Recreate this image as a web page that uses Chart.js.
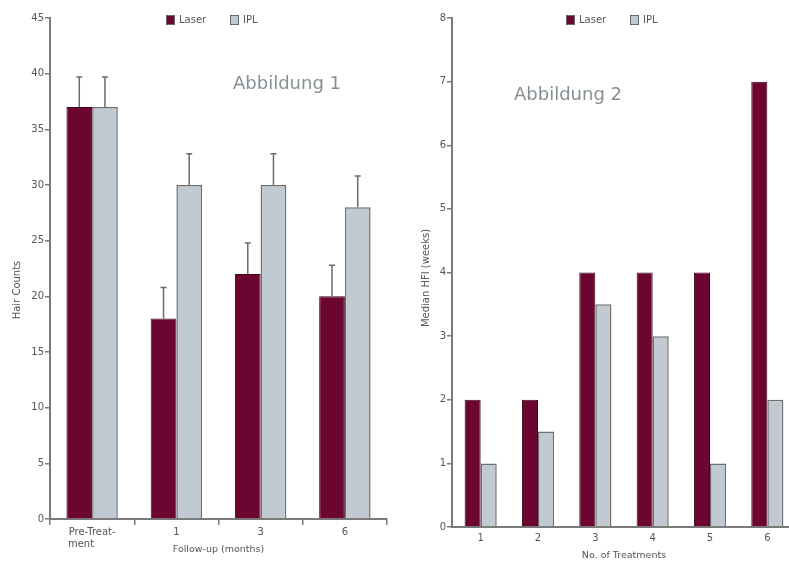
<!DOCTYPE html>
<html>
<head>
<meta charset="utf-8">
<script src="https://cdn.jsdelivr.net/npm/chart.js@4/dist/chart.umd.min.js"></script>
<style>
    html, body { margin: 0; padding: 0; background: #fff; overflow: hidden; }
    body { width: 789px; height: 561px; position: relative; }
    .panel { position: absolute; top: 0; width: 400px; height: 561px; }
    #left { left: 0; }
    #right { left: 400px; }
</style>
</head>
<body>
<div class="panel" id="left"><canvas id="chart1"></canvas></div>
<div class="panel" id="right"><canvas id="chart2"></canvas></div>
<script>
// Abbildung 1 - hair counts
const followUpLabels = [['Pre-Treat-', 'ment       '], '1', '3', '6'];
const hairLaser = [37, 18, 22, 20];
const hairIpl = [37, 30, 30, 28];
const hairLaserErr = [2.7, 2.8, 2.8, 2.8];
const hairIplErr = [2.7, 2.8, 2.8, 2.8];

// Abbildung 2 - median HFI
const treatmentLabels = ['1', '2', '3', '4', '5', '6'];
const hfiLaser = [2, 2, 4, 4, 4, 7];
const hfiIpl = [1, 1.5, 3.5, 3, 1, 2];

const LASER = '#6c0631';
const IPL = '#c1cad2';
const AXIS = '#7a7a7a';
const TEXT = '#555';
const FONT = '"DejaVu Sans", Verdana, sans-serif';

// error whiskers on top of each bar
const errorBars = {
    id: 'errorBars',
    afterDatasetsDraw(chart) {
        const { ctx, scales: { y } } = chart;
        chart.data.datasets.forEach((ds, i) => {
            if (!ds.errors) return;
            chart.getDatasetMeta(i).data.forEach((bar, j) => {
                const top = y.getPixelForValue(ds.data[j] + ds.errors[j]);
                ctx.save();
                ctx.strokeStyle = '#6a6a6a';
                ctx.lineWidth = 1.5;
                ctx.beginPath();
                ctx.moveTo(bar.x, bar.y);
                ctx.lineTo(bar.x, top);
                ctx.moveTo(bar.x - 3, top);
                ctx.lineTo(bar.x + 3, top);
                ctx.stroke();
                ctx.restore();
            });
        });
    }
};

// legend inside the plot, y axis title and the figure caption
const overlay = {
    id: 'overlay',
    afterDraw(chart, args, opts) {
        const { ctx, chartArea } = chart;
        ctx.save();
        let x = chartArea.left + opts.legendX;
        chart.data.datasets.forEach((ds) => {
            ctx.fillStyle = ds.backgroundColor;
            ctx.strokeStyle = '#666';
            ctx.lineWidth = 1;
            ctx.fillRect(x, 15, 9, 10);
            ctx.strokeRect(x + 0.5, 15.5, 8, 9);
            ctx.fillStyle = TEXT;
            ctx.font = '10px ' + FONT;
            ctx.textBaseline = 'middle';
            ctx.textAlign = 'left';
            ctx.fillText(ds.label, x + 13, 20);
            x += 64;
        });

        ctx.save();
        ctx.translate(opts.yTitleX, opts.yTitleY);
        ctx.rotate(-Math.PI / 2);
        ctx.textAlign = 'center';
        ctx.textBaseline = 'middle';
        ctx.fillStyle = TEXT;
        ctx.font = '10px ' + FONT;
        ctx.fillText(opts.yTitle, 0, 0);
        ctx.restore();

        ctx.fillStyle = '#868f94';
        ctx.font = '18px ' + FONT;
        ctx.textAlign = 'left';
        ctx.textBaseline = 'alphabetic';
        ctx.fillText(opts.caption, chartArea.left + opts.captionX, opts.captionY);
        ctx.restore();
    }
};

function makeChart(canvasId, cfg) {
    const tickFont = { family: FONT, size: 10 };
    return new Chart(document.getElementById(canvasId), {
        type: 'bar',
        data: {
            labels: cfg.labels,
            datasets: [
                {
                    label: 'Laser',
                    data: cfg.laser,
                    errors: cfg.laserErr,
                    backgroundColor: LASER,
                    borderColor: '#3a0a1c',
                    borderWidth: 1,
                    categoryPercentage: cfg.catPct,
                    barPercentage: 1
                },
                {
                    label: 'IPL',
                    data: cfg.ipl,
                    errors: cfg.iplErr,
                    backgroundColor: IPL,
                    borderColor: '#6e6e6e',
                    borderWidth: 1.5,
                    categoryPercentage: cfg.catPct,
                    barPercentage: 1
                }
            ]
        },
        options: {
            responsive: true,
            maintainAspectRatio: false,
            animation: false,
            layout: { padding: { top: 18, right: cfg.padRight, left: 0, bottom: 0 } },
            plugins: {
                legend: { display: false },
                tooltip: { enabled: false },
                overlay: {
                    legendX: cfg.legendX,
                    caption: cfg.caption,
                    captionX: cfg.captionX,
                    captionY: cfg.captionY,
                    yTitle: cfg.yTitle,
                    yTitleX: cfg.yTitleX,
                    yTitleY: cfg.yTitleY
                }
            },
            scales: {
                x: {
                    afterFit: (scale) => { scale.height = cfg.xHeight; },
                    grid: {
                        offset: true,
                        drawOnChartArea: false,
                        drawTicks: cfg.xTicks,
                        tickLength: 6,
                        color: AXIS,
                        lineWidth: 1.5
                    },
                    border: { color: AXIS, width: 2 },
                    ticks: { color: TEXT, font: tickFont, padding: cfg.xPad, maxRotation: 0, autoSkip: false },
                    title: {
                        display: true,
                        text: cfg.xTitle,
                        color: TEXT,
                        font: { family: FONT, size: 9.5 },
                        padding: { top: 0, bottom: cfg.xTitleBottom }
                    }
                },
                y: {
                    min: 0,
                    max: cfg.yMax,
                    afterFit: (scale) => { scale.width = cfg.yWidth; },
                    grid: { drawOnChartArea: false, tickLength: 5, color: AXIS, lineWidth: 1.5 },
                    border: { color: AXIS, width: 2 },
                    ticks: { stepSize: cfg.yStep, color: TEXT, font: tickFont, padding: 1 }
                }
            }
        },
        plugins: [errorBars, overlay]
    });
}

makeChart('chart1', {
    labels: followUpLabels,
    laser: hairLaser,
    ipl: hairIpl,
    laserErr: hairLaserErr,
    iplErr: hairIplErr,
    catPct: 0.61,
    padRight: 13,
    yWidth: 50,
    xHeight: 42,
    yMax: 45,
    yStep: 5,
    xTicks: true,
    xPad: 1,
    xTitleBottom: 6,
    xTitle: 'Follow-up (months)',
    yTitle: 'Hair Counts',
    yTitleX: 17,
    yTitleY: 290,
    legendX: 116,
    caption: 'Abbildung 1',
    captionX: 183,
    captionY: 89
});

makeChart('chart2', {
    labels: treatmentLabels,
    laser: hfiLaser,
    ipl: hfiIpl,
    catPct: 0.56,
    padRight: 4,
    yWidth: 52,
    xHeight: 34,
    yMax: 8,
    yStep: 1,
    xTicks: false,
    xPad: 5,
    xTitleBottom: 0,
    xTitle: 'No. of Treatments',
    yTitle: 'Median HFI (weeks)',
    yTitleX: 26,
    yTitleY: 278,
    legendX: 114,
    caption: 'Abbildung 2',
    captionX: 62,
    captionY: 100
});
</script>
</body>
</html>
